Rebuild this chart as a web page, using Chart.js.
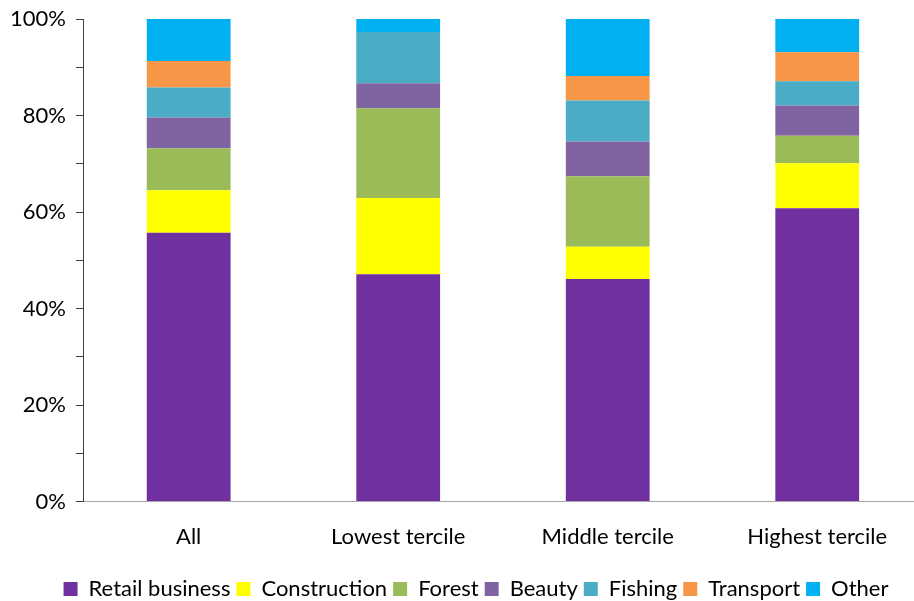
<!DOCTYPE html>
<html>
<head>
<meta charset="utf-8">
<script src="https://cdn.jsdelivr.net/npm/chart.js@4/dist/chart.umd.min.js"></script>
<style>
  html, body { margin: 0; padding: 0; background: #fff; overflow: hidden; }
  #wrap { width: 952px; height: 601px; }
</style>
</head>
<body>
<div id="wrap"><canvas id="chart"></canvas></div>
<script>
const categories = ["All", "Lowest tercile", "Middle tercile", "Highest tercile"];

const retail       = [55.7, 47.1, 46.1, 60.8];
const construction = [8.8, 15.8, 6.7, 9.3];
const forest       = [8.7, 18.6, 14.6, 5.7];
const beauty       = [6.4, 5.2, 7.2, 6.3];
const fishing      = [6.2, 10.6, 8.5, 5.0];
const transport    = [5.5, 0.0, 5.1, 6.0];
const other        = [8.7, 2.7, 11.8, 6.9];

const yTicks = [0, 20, 40, 60, 80, 100];

const series = [
  { label: "Retail business", data: retail, color: "#7030A0" },
  { label: "Construction", data: construction, color: "#FFFF00" },
  { label: "Forest", data: forest, color: "#9BBB59" },
  { label: "Beauty", data: beauty, color: "#8064A2" },
  { label: "Fishing", data: fishing, color: "#4BACC6" },
  { label: "Transport", data: transport, color: "#F79646" },
  { label: "Other", data: other, color: "#00B0F0" }
];

const font = { family: "Lato, 'Open Sans', sans-serif", size: 22 };

new Chart(document.getElementById("chart"), {
  type: "bar",
  data: {
    labels: categories,
    datasets: series.map(s => ({
      label: s.label,
      data: s.data,
      backgroundColor: s.color,
      borderWidth: 0,
      barPercentage: 1,
      categoryPercentage: 0.4
    }))
  },
  options: {
    responsive: true,
    maintainAspectRatio: false,
    animation: false,
    layout: { padding: { top: 19, right: 0, left: 0, bottom: -9 } },
    plugins: {
      tooltip: { enabled: false },
      legend: {
        position: "bottom",
        labels: {
          font: font,
          color: "#000",
          boxWidth: 14,
          boxHeight: 14,
          padding: 6
        }
      }
    },
    scales: {
      x: {
        stacked: true,
        grid: { display: false, drawTicks: false },
        border: { color: "#A6A6A6", width: 1 },
        ticks: { font: font, color: "#000", padding: 22 }
      },
      y: {
        stacked: true,
        min: 0,
        max: 100,
        afterBuildTicks: axis => {
          axis.ticks = [];
          for (let v = 0; v <= 100; v += 10) axis.ticks.push({ value: v });
        },
        afterFit: s => { s.paddingTop = 0; s.paddingBottom = 0; },
        grid: { drawOnChartArea: false, tickLength: 8, color: "#404040" },
        border: { color: "#404040", width: 1 },
        ticks: {
          font: font,
          color: "#000",
          padding: 10,
          callback: v => yTicks.includes(v) ? v + "%" : ""
        }
      },
      // empty right-hand strip so the plot ends where the reference crops it
      yRight: {
        position: "right",
        display: true,
        grid: { display: false },
        border: { display: false },
        ticks: { display: false },
        afterFit: s => { s.width = 30; }
      }
    }
  }
});
</script>
</body>
</html>
